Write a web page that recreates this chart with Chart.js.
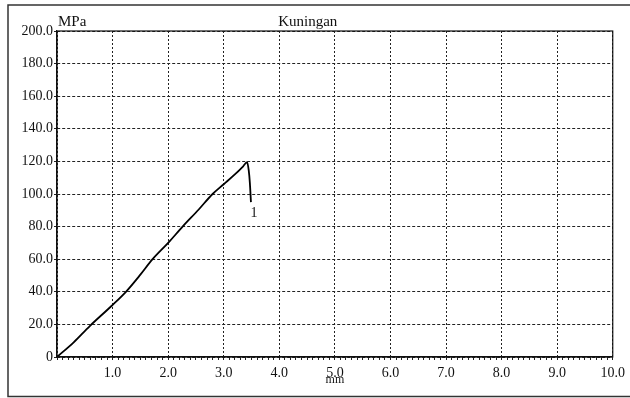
<!DOCTYPE html>
<html>
<head>
<meta charset="utf-8">
<script src="https://cdn.jsdelivr.net/npm/chart.js@4.4.1/dist/chart.umd.min.js"></script>
<style>
  html, body { margin: 0; padding: 0; background: #fff; }
  #wrap { width: 630px; height: 398px; }
</style>
</head>
<body>
<div id="wrap"><canvas id="c" width="630" height="398"></canvas></div>
<script>
// Tensile test record: elongation (mm) vs stress (MPa)
const elongationMm = [0, 0.30, 0.59, 0.98, 1.24, 1.50, 1.72, 2.00, 2.26, 2.55, 2.80, 3.00, 3.20, 3.35, 3.42, 3.45, 3.47, 3.49];
const stressMPa    = [0, 9.0, 19.0, 31.3, 40.0, 50.5, 60.0, 70.0, 80.0, 90.5, 100.0, 106.0, 112.0, 117.0, 119.5, 114.5, 107.0, 95.0];
const xTickValues  = [1, 2, 3, 4, 5, 6, 7, 8, 9, 10];
const yTickValues  = [0, 20, 40, 60, 80, 100, 120, 140, 160, 180, 200];
const titleText = 'Kuningan';
const yUnit = 'MPa';
const xUnit = 'mm';
const curveLabel = '1';

const SERIF = '"Liberation Serif", "Times New Roman", serif';
const INK = '#111';

const points = elongationMm.map((x, i) => ({ x: x, y: stressMPa[i] }));
const isInt = v => Math.abs(v - Math.round(v)) < 1e-6;

const framePlugin = {
  id: 'frame',
  beforeDraw(chart) {
    const ctx = chart.ctx;
    ctx.save();
    ctx.fillStyle = '#fff';
    ctx.fillRect(0, 0, chart.width, chart.height);
    ctx.strokeStyle = '#333';
    ctx.lineWidth = 1.5;
    ctx.beginPath();
    ctx.moveTo(chart.width, 5);
    ctx.lineTo(8, 5);
    ctx.lineTo(8, chart.height - 1.5);
    ctx.lineTo(chart.width, chart.height - 1.5);
    ctx.stroke();
    ctx.restore();
  },
  afterDatasetsDraw(chart) {
    const ctx = chart.ctx;
    const a = chart.chartArea;
    ctx.save();
    ctx.strokeStyle = INK;
    ctx.lineWidth = 1.2;
    ctx.strokeRect(a.left, a.top, a.right - a.left, a.bottom - a.top);
    // unit label above the value axis
    ctx.fillStyle = INK;
    ctx.font = '15px ' + SERIF;
    ctx.textAlign = 'left';
    ctx.textBaseline = 'alphabetic';
    ctx.fillText(yUnit, a.left + 1, a.top - 5);
    // curve number beside the end of the trace
    const meta = chart.getDatasetMeta(0);
    const last = meta.data[meta.data.length - 1];
    ctx.font = '14px ' + SERIF;
    ctx.textAlign = 'center';
    ctx.textBaseline = 'middle';
    ctx.fillText(curveLabel, last.x + 3, last.y + 11);
    ctx.restore();
  }
};

new Chart(document.getElementById('c'), {
  type: 'scatter',
  data: {
    datasets: [{
      data: points,
      showLine: true,
      borderColor: '#000',
      borderWidth: 1.8,
      pointRadius: 0,
      cubicInterpolationMode: 'monotone',
      fill: false
    }]
  },
  options: {
    responsive: false,
    animation: false,
    events: [],
    layout: { padding: { left: 0, right: 14.5, top: 0, bottom: 0 } },
    plugins: {
      legend: { display: false },
      tooltip: { enabled: false },
      title: {
        display: true,
        text: titleText,
        color: INK,
        font: { family: SERIF, size: 15, weight: 'normal' },
        padding: { top: 13, bottom: 0 }
      }
    },
    scales: {
      x: {
        type: 'linear',
        min: 0,
        max: 10,
        afterFit(scale) { scale.height = 41; },
        ticks: {
          stepSize: 0.1,
          autoSkip: false,
          maxRotation: 0,
          padding: 5,
          color: INK,
          font: { family: SERIF, size: 14 },
          callback: v => (isInt(v) && xTickValues.includes(Math.round(v))) ? Math.round(v).toFixed(1) : ''
        },
        grid: {
          drawOnChartArea: true,
          color: c => (c.tick && isInt(c.tick.value)) ? '#222' : 'rgba(0,0,0,0)',
          tickColor: '#222',
          tickLength: 3,
          lineWidth: 1
        },
        border: { display: true, color: INK, width: 1.2, dash: [2, 2] },
        title: {
          display: true,
          text: xUnit,
          color: INK,
          font: { family: SERIF, size: 12 },
          padding: { top: 0, bottom: 11 }
        }
      },
      y: {
        type: 'linear',
        min: 0,
        max: 200,
        afterFit(scale) { scale.width = 57; },
        afterBuildTicks(scale) { scale.ticks = yTickValues.map(v => ({ value: v })); },
        ticks: {
          autoSkip: false,
          padding: 1,
          color: INK,
          font: { family: SERIF, size: 14 },
          callback: v => v === 0 ? '0' : Number(v).toFixed(1)
        },
        grid: {
          color: '#222',
          tickColor: '#222',
          tickLength: 3,
          lineWidth: 1
        },
        border: { display: true, color: INK, width: 1.2, dash: [3, 2] }
      }
    }
  },
  plugins: [framePlugin]
});
</script>
</body>
</html>
